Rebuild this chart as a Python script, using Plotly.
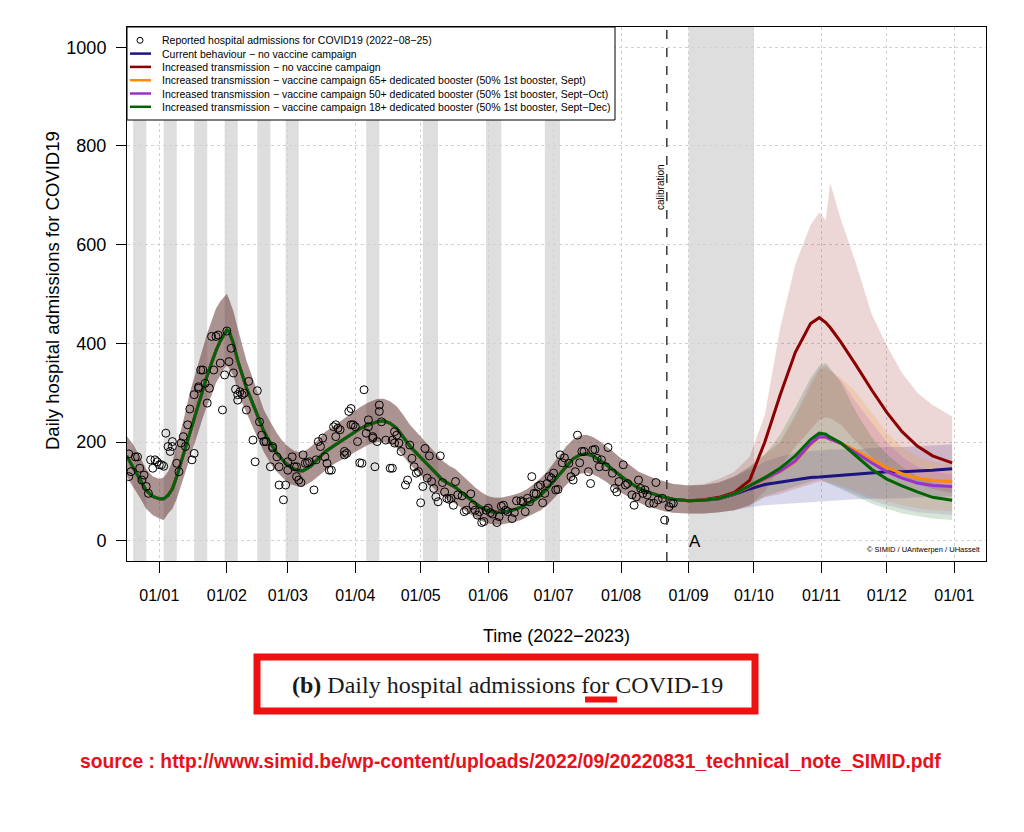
import datetime as dt
import plotly.graph_objects as go

BASE = dt.date(2022, 1, 1)

# ---------------- data (day offsets from 2022-01-01) ----------------
obs_day = [-14, -14, -13, -11, -10, -9, -8, -7, -6, -5, -4, -3, -2, -1, 0, 1, 2, 3, 4, 5, 6, 6, 8, 9, 10, 11, 12, 13, 14, 15,
           16, 16, 18, 18, 19, 20, 21, 22, 23, 24, 25, 26, 27, 28, 29, 30, 31, 32, 33, 34, 35, 36, 36, 37, 38, 39, 40, 41,
           43, 44, 45, 46, 47, 48, 49, 51, 52, 52, 54, 55, 55, 57, 58, 59, 59, 61, 62, 63, 63, 64, 65,
           66, 67, 68, 69, 71, 72, 73, 74, 75, 76, 77, 78, 79, 80, 81, 81, 82, 83, 85, 85, 86, 87, 88, 88, 89, 90, 91, 92,
           93, 94, 95, 96, 96, 98, 98, 99, 100, 101, 101, 102, 104, 106, 107, 107, 108, 108, 109, 110,
           111, 113, 114, 115, 116, 117, 118, 119, 120, 121, 122, 123, 124, 125, 126, 127, 128, 129, 130, 131, 132, 133,
           134, 135, 136, 137, 139, 140, 141, 143, 144, 145, 146, 147, 148, 149, 150, 151, 152, 153, 155, 156, 157, 158,
           159, 160, 162, 163, 164, 166, 167, 168, 169, 170, 171, 172, 173, 174, 175, 176, 177, 178, 179, 180, 181, 182,
           183, 184, 185, 186, 188, 189, 190, 191, 192, 193, 194, 195, 197, 198, 199, 200, 201, 202, 203, 205, 206, 208,
           209, 210, 211, 213, 214, 215, 217, 218, 219, 220, 221, 222, 223, 224, 225, 227, 228, 229, 231, 232, 234, 235, 236]
obs_val = [176, 130, 140, 170, 170, 147, 123, 133, 110, 96, 164, 147, 164, 160, 154, 154, 151, 218, 191, 181, 191, 201, 157, 140, 198, 211, 191, 235, 267, 164,
           177, 296, 309, 312, 346, 346, 319, 279, 309, 414, 346, 414, 417, 360, 265, 336, 425, 363, 390, 340, 307, 285, 296, 302, 296, 299, 265, 323,
           204, 160, 304, 241, 214, 201, 201, 150, 191, 188, 170, 113, 150, 83, 113, 160, 143, 170, 150, 150, 130, 123, 118,
           174, 157, 158, 160, 103, 164, 201, 191, 208, 170, 157, 143, 143, 231, 235, 211, 228, 225, 174, 181, 177, 262, 235, 268, 235, 231, 201, 158,
           157, 306, 218, 245, 231, 211, 208, 150, 201, 275, 262, 241, 204, 147, 147, 204, 198, 221, 214, 198,
           181, 113, 123, 194, 167, 150, 137, 140, 77, 110, 187, 127, 172, 120, 106, 89, 79, 172, 118, 99, 86, 84,
           86, 72, 120, 93, 91, 59, 62, 95, 72, 62, 52, 59, 37, 39, 62, 66, 57, 54, 37, 49, 70, 72,
           62, 59, 45, 57, 81, 81, 79, 59, 86, 79, 130, 96, 95, 110, 113, 77, 96, 116, 130, 127, 137, 103,
           104, 174, 158, 168, 157, 130, 123, 140, 214, 158, 181, 181, 140, 116, 184, 185, 167, 150, 164, 150, 189, 137,
           106, 99, 120, 154, 113, 116, 93, 72, 89, 123, 106, 96, 103, 93, 76, 76, 118, 83, 86, 42, 69, 76, 76]

# calibration-period fit (shared by all scenarios)
fit_day = [-15, -12, -9, -6, -3, 0, 2, 4, 6, 8, 10, 12, 14, 16, 18, 20, 22, 24, 26, 28, 30, 31, 32, 34, 36, 38, 40, 42, 44, 46,
           48, 50, 52, 54, 56, 58, 60, 62, 64, 66, 68, 70, 73, 76, 80, 84, 88, 92, 96, 100, 103, 106, 109, 112, 115, 118,
           121, 124, 127, 130, 133, 136, 139, 142, 145, 148, 151, 154, 157, 160, 163, 166, 169, 172, 175, 178, 181, 184,
           187, 190, 193, 196, 199, 202, 205, 208, 211, 214, 217, 220, 224, 228, 232, 236]
fit_med = [172, 150, 125, 102, 90, 85, 85, 92, 105, 130, 160, 190, 220, 250, 280, 310, 335, 360, 385, 405, 420, 427, 424, 400, 365, 335, 310, 288, 265, 242,
           222, 205, 190, 177, 167, 157, 150, 145, 142, 142, 147, 153, 167, 180, 192, 204, 216, 227, 235, 241, 243, 238, 228, 210, 192, 178,
           165, 150, 137, 123, 115, 108, 97, 86, 76, 67, 60, 58, 58, 60, 63, 68, 75, 82, 92, 105, 120, 136,
           152, 166, 174, 176, 172, 164, 155, 145, 134, 124, 115, 107, 99, 93, 88, 84]
fit_lo = [130, 110, 88, 65, 52, 45, 42, 55, 65, 85, 110, 140, 170, 195, 222, 250, 275, 295, 320, 335, 350, 355, 350, 335, 305, 280, 260, 240, 220, 200,
          180, 165, 150, 140, 130, 122, 115, 112, 110, 110, 115, 120, 130, 142, 155, 165, 175, 185, 195, 200, 200, 197, 188, 172, 155, 140,
          128, 115, 102, 90, 82, 75, 66, 56, 48, 40, 35, 33, 33, 35, 38, 42, 48, 55, 62, 72, 85, 100,
          115, 128, 136, 138, 135, 128, 120, 110, 100, 92, 85, 78, 70, 65, 60, 57]
fit_hi = [212, 195, 170, 145, 130, 125, 128, 140, 160, 190, 225, 260, 300, 330, 360, 395, 420, 445, 470, 485, 495, 500, 490, 465, 430, 395, 365, 340, 315, 290,
          265, 248, 232, 218, 205, 195, 188, 182, 180, 180, 185, 192, 205, 220, 232, 245, 258, 270, 280, 287, 288, 282, 272, 255, 235, 220,
          205, 190, 176, 162, 152, 145, 133, 120, 108, 98, 90, 87, 87, 90, 93, 98, 105, 115, 126, 140, 157, 175,
          192, 205, 213, 215, 210, 202, 192, 182, 170, 160, 150, 140, 132, 125, 120, 115]

# projection period (after 2022-08-25)
proj_day = [243, 250, 257, 264, 271, 278, 285, 292, 299, 303, 306, 308, 313, 320, 327, 334, 341, 348, 355, 364]

blue_med = [81, 82, 85, 94, 105, 114, 119, 124, 128, 129, 130, 131, 132, 135, 138, 140, 140, 141, 143, 146]
blue_lo = [55, 55, 58, 62, 68, 72, 75, 76, 78, 79, 80, 81, 82, 84, 85, 86, 86, 88, 88, 90]
blue_hi = [112, 113, 118, 130, 145, 160, 170, 178, 182, 184, 185, 185, 185, 185, 188, 190, 190, 192, 193, 195]

red_med = [81, 83, 88, 98, 122, 200, 295, 382, 440, 452, 442, 432, 402, 355, 306, 260, 221, 192, 172, 158]
red_lo = [55, 55, 58, 62, 72, 100, 150, 190, 225, 245, 250, 248, 235, 200, 170, 150, 130, 115, 105, 97]
red_hi = [112, 115, 125, 140, 170, 255, 430, 560, 640, 665, 650, 725, 650, 560, 460, 395, 340, 300, 275, 252]

orange_med = [81, 82, 86, 95, 110, 126, 140, 160, 195, 210, 209, 206, 198, 182, 165, 148, 136, 127, 122, 120]
orange_lo = [55, 55, 58, 62, 72, 88, 95, 105, 115, 120, 120, 118, 112, 100, 88, 80, 72, 66, 62, 60]
orange_hi = [112, 113, 118, 130, 150, 175, 200, 250, 310, 345, 350, 345, 330, 300, 260, 220, 190, 170, 160, 155]

purple_med = [81, 82, 86, 95, 110, 126, 141, 162, 197, 211, 210, 206, 197, 178, 158, 140, 127, 117, 112, 110]
purple_lo = [55, 55, 58, 62, 72, 88, 95, 105, 115, 120, 118, 115, 108, 95, 82, 72, 65, 58, 55, 52]
purple_hi = [112, 113, 118, 130, 150, 175, 200, 255, 320, 350, 355, 345, 325, 280, 240, 200, 170, 150, 140, 135]

green_med = [81, 82, 86, 95, 112, 128, 147, 172, 205, 218, 216, 210, 198, 172, 145, 125, 111, 99, 88, 82]
green_lo = [55, 55, 58, 62, 72, 90, 100, 110, 120, 125, 120, 115, 105, 90, 75, 65, 55, 50, 45, 42]
green_hi = [112, 113, 118, 130, 150, 175, 215, 270, 330, 355, 360, 350, 320, 260, 210, 175, 150, 130, 118, 110]

scen_labels = [
    "Current behaviour \u2212 no vaccine campaign",
    "Increased transmission \u2212 no vaccine campaign",
    "Increased transmission \u2212 vaccine campaign 65+ dedicated booster (50% 1st booster, Sept)",
    "Increased transmission \u2212 vaccine campaign 50+ dedicated booster (50% 1st booster, Sept\u2212Oct)",
    "Increased transmission \u2212 vaccine campaign 18+ dedicated booster (50% 1st booster, Sept\u2212Dec)",
]
obs_label = "Reported hospital admissions for COVID19 (2022\u221208\u221225)"

# holiday stripes (start, end)
stripe_start = ["2021-12-20", "2022-01-03", "2022-01-17", "2022-01-31", "2022-02-15", "2022-02-28",
                "2022-04-06", "2022-05-02", "2022-05-31", "2022-06-27", "2022-09-01"]
stripe_end = ["2021-12-26", "2022-01-09", "2022-01-23", "2022-02-06", "2022-02-21", "2022-03-06",
              "2022-04-12", "2022-05-09", "2022-06-07", "2022-07-04", "2022-10-01"]

tick_dates = ["2022-01-01", "2022-02-01", "2022-03-01", "2022-04-01", "2022-05-01", "2022-06-01", "2022-07-01",
              "2022-08-01", "2022-09-01", "2022-10-01", "2022-11-01", "2022-12-01", "2023-01-01"]
tick_labels = ["01/01", "01/02", "01/03", "01/04", "01/05", "01/06", "01/07", "01/08", "01/09", "01/10",
               "01/11", "01/12", "01/01"]
y_ticks = [0, 200, 400, 600, 800, 1000]
calib_date = "2022-08-22"

# ---------------- styling ----------------
FONT = "Liberation Sans, Arial, sans-serif"
line_colors = ["#1c1480", "#8b0000", "#ff8c00", "#9932cc", "#006400"]
band_colors = ["rgba(0,0,139,0.15)", "rgba(139,0,0,0.16)", "rgba(255,140,0,0.16)",
               "rgba(153,50,204,0.15)", "rgba(0,100,0,0.16)"]

W, H = 1024, 832
L, R, T, B = 127, 986, 27, 561


def px(x):
    return (x - L) / (R - L)


def py(y):
    return (B - y) / (B - T)


def to_date(d):
    return (BASE + dt.timedelta(days=d)).isoformat()


scen = [(blue_med, blue_lo, blue_hi), (red_med, red_lo, red_hi), (orange_med, orange_lo, orange_hi),
        (purple_med, purple_lo, purple_hi), (green_med, green_lo, green_hi)]

full_days = fit_day + proj_day
full_dates = [to_date(d) for d in full_days]

fig = go.Figure()

# bands
for (med, lo, hi), bc in zip(scen, band_colors):
    up = fit_hi + hi
    dn = fit_lo + lo
    fig.add_trace(go.Scatter(x=full_dates + full_dates[::-1], y=up + dn[::-1], fill="toself",
                             fillcolor=bc, line=dict(width=0), mode="lines", hoverinfo="skip",
                             showlegend=False))
# median lines
for (med, lo, hi), lc, name in zip(scen, line_colors, scen_labels):
    fig.add_trace(go.Scatter(x=full_dates, y=fit_med + med, mode="lines",
                             line=dict(color=lc, width=3), name=name, showlegend=False))
# observations
fig.add_trace(go.Scatter(x=[to_date(d) for d in obs_day], y=obs_val, mode="markers",
                         marker=dict(symbol="circle-open", size=8, color="black", line=dict(width=1)),
                         name=obs_label, showlegend=False))

shapes = []
for s, e in zip(stripe_start, stripe_end):
    shapes.append(dict(type="rect", xref="x", yref="paper", x0=s, x1=e, y0=0, y1=1,
                       fillcolor="#dedede", line=dict(width=0), layer="below"))
shapes.append(dict(type="line", xref="x", yref="paper", x0=calib_date, x1=calib_date, y0=0, y1=1,
                   line=dict(color="#3a3a3a", width=1.5, dash="dash"), layer="above"))

# manual legend
rows = [40.3, 53.6, 66.9, 80.2, 93.5, 106.8]
shapes.append(dict(type="rect", xref="paper", yref="paper", x0=px(127), x1=px(615), y0=py(120), y1=py(27),
                   fillcolor="white", line=dict(color="black", width=1), layer="above"))
shapes.append(dict(type="circle", xref="paper", yref="paper", x0=px(137), x1=px(143),
                   y0=py(rows[0] + 3), y1=py(rows[0] - 3), line=dict(color="black", width=1), layer="above"))
for r, lc in zip(rows[1:], line_colors):
    shapes.append(dict(type="line", xref="paper", yref="paper", x0=px(130), x1=px(151), y0=py(r), y1=py(r),
                       line=dict(color=lc, width=2.5), layer="above"))

# caption box
shapes.append(dict(type="rect", xref="paper", yref="paper", x0=px(257), x1=px(755), y0=py(711), y1=py(657),
                   line=dict(color="#ee1111", width=7)))
shapes.append(dict(type="line", xref="paper", yref="paper", x0=px(585), x1=px(617), y0=py(699.5), y1=py(699.5),
                   line=dict(color="#ee1111", width=6)))


def note(x, y, text, size, xanchor="center", angle=0, family=FONT, color="black"):
    return dict(x=px(x), y=py(y), xref="paper", yref="paper", text=text, showarrow=False,
                xanchor=xanchor, yanchor="middle", textangle=angle,
                font=dict(family=family, size=size, color=color))


ann = []
for r, t in zip(rows, [obs_label] + scen_labels):
    ann.append(note(160, r, t, 10.5, xanchor="left"))
ann.append(note(661, 187, "calibration", 10, angle=-90))
ann.append(note(687, 541, "A", 17, xanchor="left"))
ann.append(note(983, 549, "\u00a9 SIMID / UAntwerpen / UHasselt", 7.5, xanchor="right"))
ann.append(note(52, 291, "Daily hospital admissions for COVID19", 18.5, angle=-90))
ann.append(note(556, 636, "Time (2022\u22122023)", 18))
ann.append(note(507, 685, "<b>(b)</b> Daily hospital admissions for COVID-19", 24,
                family="Liberation Serif, Times New Roman, serif", color="#1a1a1a"))
ann.append(note(510, 761,
                "<b>source : http://www.simid.be/wp-content/uploads/2022/09/20220831_technical_note_SIMID.pdf</b>",
                19.3, color="#e8111a"))

fig.update_layout(
    width=W, height=H,
    margin=dict(l=L, r=W - R, t=T, b=H - B, pad=0),
    paper_bgcolor="white", plot_bgcolor="white",
    showlegend=False,
    shapes=shapes, annotations=ann,
    xaxis=dict(type="date", range=["2021-12-17 04:00", "2023-01-15 13:00"],
               tickmode="array", tickvals=tick_dates, ticktext=tick_labels,
               ticks="outside", ticklen=11, tickcolor="black", tickwidth=1,
               showline=True, linecolor="black", linewidth=1, mirror=True,
               showgrid=True, gridcolor="#d2d2d2", griddash="dot", gridwidth=1,
               zeroline=False, ticklabelstandoff=9,
               tickfont=dict(family=FONT, size=16, color="black")),
    yaxis=dict(range=[-41, 1041], tickmode="array", tickvals=y_ticks,
               ticks="outside", ticklen=10, tickcolor="black", tickwidth=1,
               showline=True, linecolor="black", linewidth=1, mirror=True,
               showgrid=True, gridcolor="#d2d2d2", griddash="dot", gridwidth=1,
               zeroline=False, ticklabelstandoff=6,
               tickfont=dict(family=FONT, size=18, color="black")),
)

fig.write_html("out.html")
